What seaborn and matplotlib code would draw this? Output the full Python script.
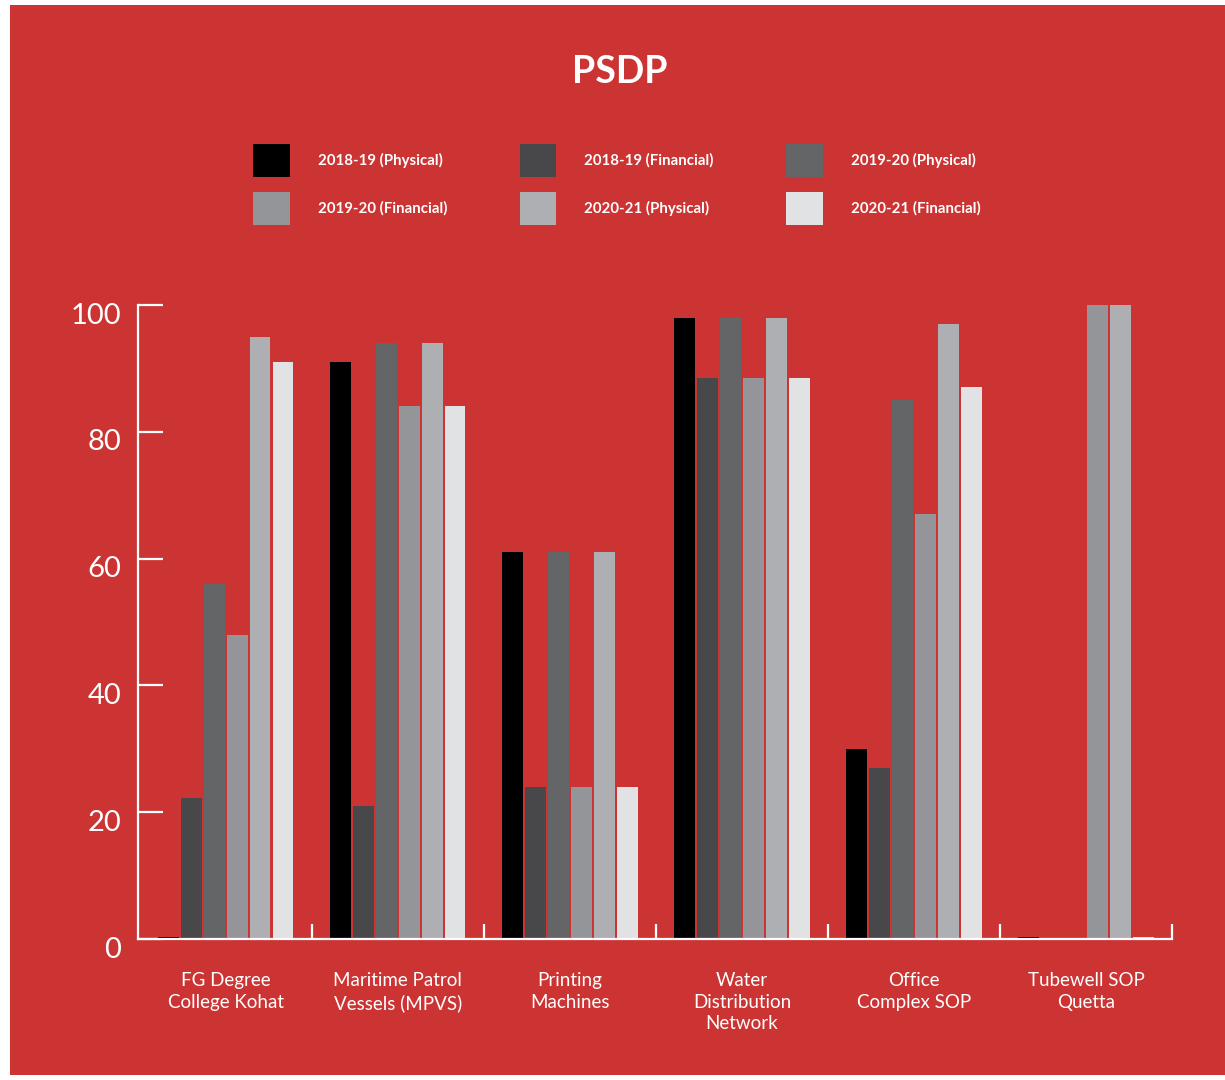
import pandas as pd
import matplotlib.pyplot as plt
import matplotlib.transforms as mtransforms
from matplotlib.patches import Rectangle
import seaborn as sns

# categories on the x axis
projects = [
    'FG Degree\nCollege Kohat',
    'Maritime Patrol\nVessels (MPVS)',
    'Printing\nMachines',
    'Water\nDistribution\nNetwork',
    'Office\nComplex SOP',
    'Tubewell SOP\nQuetta',
]
series = [
    '2018-19 (Physical)', '2018-19 (Financial)',
    '2019-20 (Physical)', '2019-20 (Financial)',
    '2020-21 (Physical)', '2020-21 (Financial)',
]
phys_1819 = [0.3, 91, 61, 98, 30, 0.3]
fin_1819 = [22.3, 21, 24, 88.5, 27, 0]
phys_1920 = [56, 94, 61, 98, 85, 0]
fin_1920 = [48, 84, 24, 88.5, 67, 100]
phys_2021 = [95, 94, 61, 98, 97, 100]
fin_2021 = [91, 84, 24, 88.5, 87, 0.3]

colors = ['#000000', '#48484a', '#646567', '#939598', '#adafb2', '#e1e2e3']
RED = '#cc3333'

values = [phys_1819, fin_1819, phys_1920, fin_1920, phys_2021, fin_2021]
rows = []
for name, vals in zip(series, values):
    for proj, v in zip(projects, vals):
        rows.append({'Project': proj, 'Series': name, 'Value': v})
df = pd.DataFrame(rows)

sns.set_theme(style='white')
plt.rcParams['font.family'] = ['Lato', 'DejaVu Sans']

fig = plt.figure(figsize=(12.25, 10.8), dpi=100)
fig.patch.set_facecolor('white')
fig.patches.append(Rectangle((10 / 1225, 5 / 1080), 1, 1070 / 1080,
                             transform=fig.transFigure, facecolor=RED,
                             edgecolor='none', zorder=-10))

ax = fig.add_axes([138 / 1225, 141 / 1080, 1034 / 1225, 634 / 1080])
ax.set_facecolor('none')

sns.barplot(data=df, x='Project', y='Value', hue='Series', hue_order=series,
            order=projects, palette=colors, width=0.8, gap=0.1,
            saturation=1, linewidth=0, ax=ax)

ax.set_xlim(-0.51, 5.5)
ax.set_ylim(0, 100)
ax.set_yticks([0, 20, 40, 60, 80, 100])
ax.set_xlabel('')
ax.set_ylabel('')

for s in ['top', 'right']:
    ax.spines[s].set_visible(False)
for s in ['left', 'bottom']:
    ax.spines[s].set_color('white')
    ax.spines[s].set_linewidth(1.6)

ax.tick_params(axis='y', direction='in', length=18, width=1.6, color='white',
               labelcolor='white', labelsize=21, pad=12, left=True)
ax.set_xticks([0.5, 1.5, 2.5, 3.5, 4.5, 5.5], minor=True)
ax.tick_params(axis='x', which='minor', direction='in', length=11, width=1.6,
               color='white', bottom=True)
ax.tick_params(axis='x', which='major', length=0, pad=24, labelcolor='white',
               labelsize=13.5)
for lab in ax.get_xticklabels():
    lab.set_linespacing(1.3)
for lab in ax.get_yticklabels():
    lab.set_transform(lab.get_transform() +
                      mtransforms.ScaledTranslation(0, -8 / 100, fig.dpi_scale_trans))

# legend laid out row by row like the original
handles, labels = ax.get_legend_handles_labels()
ax.get_legend().remove()
order = [0, 3, 1, 4, 2, 5]
leg = fig.legend([handles[i] for i in order], [labels[i] for i in order],
                 loc='upper left', bbox_to_anchor=(253 / 1225, 1 - 144 / 1080),
                 ncol=3, frameon=False, borderpad=0,
                 borderaxespad=0, handlelength=2.45, handleheight=3.0,
                 handletextpad=1.85, columnspacing=4.85, labelspacing=1.0,
                 prop={'weight': 'bold', 'size': 10.8})
for t in leg.get_texts():
    t.set_color('white')

fig.text(620 / 1225, 1 - 72 / 1080, 'PSDP', color='white', fontsize=27,
         fontweight='bold', ha='center', va='center')

plt.savefig('out.png', dpi=100)
plt.close('all')
